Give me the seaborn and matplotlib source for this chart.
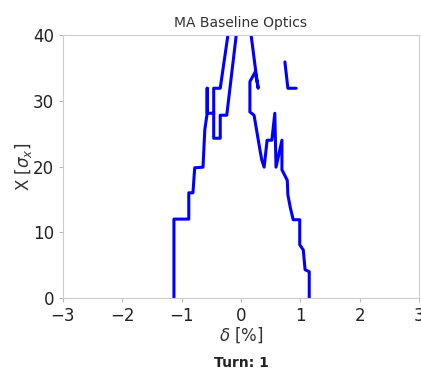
import numpy as np
import pandas as pd
import matplotlib
matplotlib.use("Agg")
import matplotlib.pyplot as plt
import seaborn as sns

# Segment 1: left branch up to the top and back
seg1_delta = [-1.13, -1.13, -0.88, -0.88, -0.81, -0.78, -0.64, -0.61, -0.57, -0.57,
              -0.57, -0.46, -0.46, -0.35, -0.35, -0.24, -0.08, -0.05, -0.19, -0.22,
              -0.35, -0.46, -0.46]
seg1_X = [0, 12, 12, 16, 16, 19.8, 19.9, 25.6, 28.1, 31.9,
          28.1, 28.1, 24.3, 24.3, 27.8, 27.8, 40, 42.3, 42.3, 40,
          31.9, 31.9, 28.1]
# Segment 2: right branch from the top down to zero
seg2_delta = [0.15, 0.17, 0.25, 0.29, 0.24, 0.15, 0.15, 0.22, 0.32, 0.35,
              0.39, 0.44, 0.52, 0.57, 0.59, 0.69, 0.69, 0.78, 0.79, 0.83,
              0.88, 0.99, 0.99, 1.05, 1.08, 1.15, 1.15]
seg2_X = [42.3, 40, 34.4, 31.9, 34.4, 32.9, 28.3, 27.8, 22.5, 21.0,
          19.9, 24.0, 24.0, 28.1, 19.9, 24.0, 19.5, 17.9, 15.7, 13.8,
          11.9, 11.9, 8.1, 7.3, 4.3, 4.0, 0]
# Segment 3: isolated piece
seg3_delta = [0.74, 0.79, 0.93]
seg3_X = [35.9, 31.9, 31.9]

xticks = [-3, -2, -1, 0, 1, 2, 3]
yticks = [0, 10, 20, 30, 40]

df = pd.concat([
    pd.DataFrame({"delta": seg1_delta, "X": seg1_X, "seg": 1, "order": range(len(seg1_X))}),
    pd.DataFrame({"delta": seg2_delta, "X": seg2_X, "seg": 2, "order": range(len(seg2_X))}),
    pd.DataFrame({"delta": seg3_delta, "X": seg3_X, "seg": 3, "order": range(len(seg3_X))}),
], ignore_index=True)

sns.set_style("ticks")
plt.rcParams['font.family'] = ['DejaVu Sans']

fig = plt.figure(figsize=(4.21, 3.74), dpi=100)
ax = fig.add_axes([63/421, 1-298/374, (419-63)/421, (298-35)/374])

sns.lineplot(data=df, x="delta", y="X", units="seg", estimator=None, sort=False,
             color="#0000ff", linewidth=2.2, ax=ax)

ax.set_xlim(-3, 3)
ax.set_ylim(0, 40)
ax.set_xticks(xticks)
ax.set_yticks(yticks)
ax.tick_params(labelsize=12, colors="#bbbbbb", labelcolor="#222222", length=3)
for s in ax.spines.values():
    s.set_color("#cccccc")
    s.set_visible(True)
ax.set_xlabel(r"$\delta$ [%]", fontsize=12, color="#333333", labelpad=0)
ax.set_ylabel(r"X [$\sigma_x$]", fontsize=12, color="#333333", labelpad=-1)
ax.set_title("MA Baseline Optics", fontsize=10, color="#333333", pad=6)
fig.text(241/421, 1-363/374, "Turn: 1", ha="center", va="center",
         fontsize=10, fontweight="bold", color="#222222")

fig.savefig("out.png", dpi=100)
